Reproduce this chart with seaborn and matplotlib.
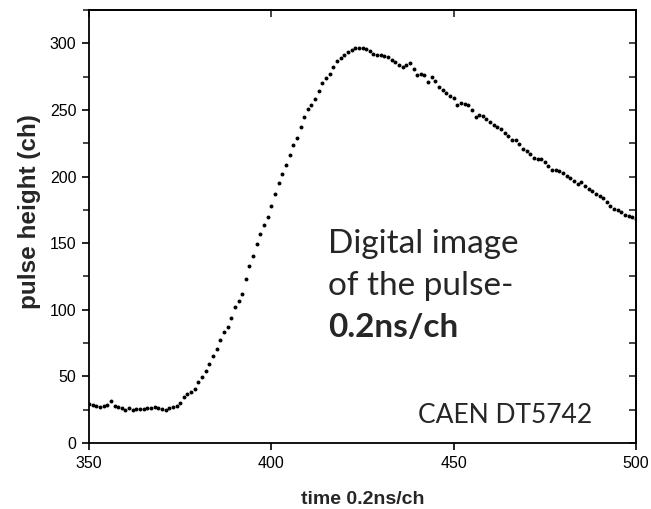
import numpy as np
import pandas as pd
import matplotlib
matplotlib.use("Agg")
import matplotlib.pyplot as plt
import seaborn as sns
from matplotlib.ticker import MultipleLocator

# ---- data ----
time_ch = list(range(350, 501))
pulse_height = [
    29.0, 28.3, 27.5, 27.3, 27.5, 28.3, 31.5, 27.5, 26.8, 26.0,
    24.7, 26.2, 24.7, 25.7, 25.2, 25.7, 26.0, 26.5, 27.2, 26.0,
    25.5, 24.7, 26.2, 27.2, 28.0, 29.7, 34.7, 36.5, 38.0, 40.5,
    46.0, 49.7, 54.2, 59.0, 65.0, 70.5, 77.0, 83.0, 87.0, 93.7,
    102.0, 106.5, 112.0, 123.0, 132.7, 140.0, 149.7, 156.7, 163.7, 169.5,
    177.7, 186.7, 195.0, 201.7, 209.0, 216.0, 224.0, 229.3, 237.3, 244.5,
    250.5, 254.0, 258.5, 264.3, 270.3, 274.0, 277.3, 282.3, 287.0, 289.0,
    291.2, 293.5, 295.3, 296.5, 296.7, 296.7, 296.0, 294.5, 292.0, 291.5,
    291.0, 290.5, 289.5, 287.7, 286.0, 283.5, 282.2, 284.0, 285.5, 280.5,
    276.5, 276.7, 276.5, 271.2, 274.5, 271.5, 267.2, 265.2, 262.5, 260.5,
    258.7, 254.0, 255.2, 254.7, 253.5, 250.2, 244.7, 246.2, 245.7, 243.2,
    240.7, 239.0, 237.2, 235.5, 233.0, 230.5, 227.2, 227.7, 224.2, 221.0,
    219.5, 216.7, 214.2, 213.2, 213.5, 211.2, 208.2, 205.2, 205.2, 204.0,
    202.7, 200.5, 198.7, 197.0, 194.7, 195.7, 193.2, 190.9, 189.2, 187.2,
    185.5, 183.7, 181.0, 178.0, 176.0, 174.7, 173.5, 171.2, 170.2, 169.7,
    168.5,
]
x_label = "time 0.2ns/ch"
y_label = "pulse height (ch)"
note_lines = ["Digital image", "of the pulse-", "0.2ns/ch"]
device = "CAEN DT5742"

df = pd.DataFrame({"t": time_ch, "h": pulse_height})

sns.set_style("ticks")
plt.rcParams["font.family"] = ["Liberation Sans", "DejaVu Sans"]

fig = plt.figure(figsize=(6.51, 5.09), dpi=100)
ax = fig.add_axes([89 / 651, 66 / 509, (636 - 89) / 651, (443 - 10) / 509])

sns.scatterplot(data=df, x="t", y="h", ax=ax, color="black", s=8,
                linewidth=0, legend=False, zorder=3)

ax.set_xlim(350, 500)
ax.set_ylim(0, 325)
ax.xaxis.set_major_locator(MultipleLocator(50))
ax.yaxis.set_major_locator(MultipleLocator(50))
ax.yaxis.set_minor_locator(MultipleLocator(25))

for s in ax.spines.values():
    s.set_linewidth(1.3)
    s.set_color("black")
    s.set_visible(True)

ax.tick_params(axis="both", which="major", direction="out", length=5,
               width=1.2, labelsize=11.5, colors="black", pad=4)
ax.tick_params(axis="y", which="minor", direction="out", length=4, width=1.2)

top = ax.secondary_xaxis("top")
top.xaxis.set_major_locator(MultipleLocator(50))
top.tick_params(direction="in", length=5, width=1.2, labeltop=False)
top.spines["top"].set_linewidth(1.3)
right = ax.secondary_yaxis("right")
right.yaxis.set_major_locator(MultipleLocator(25))
right.tick_params(direction="in", length=5, width=1.2, labelright=False)
right.spines["right"].set_linewidth(1.3)

ax.set_xlabel(x_label, fontsize=14, fontweight="bold", labelpad=15)
ax.set_ylabel(y_label, fontsize=17.5, fontweight="bold")
ax.yaxis.set_label_coords(-0.088, 0.535)

note_font = ["Lato", "DejaVu Sans"]
ax.text(0.437, 0.439, note_lines[0], transform=ax.transAxes,
        fontsize=24, family=note_font, va="baseline", ha="left")
ax.text(0.437, 0.342, note_lines[1], transform=ax.transAxes,
        fontsize=24, family=note_font, va="baseline", ha="left")
ax.text(0.437, 0.245, note_lines[2], transform=ax.transAxes,
        fontsize=24, family=note_font, fontweight="bold",
        va="baseline", ha="left")
ax.text(0.601, 0.046, device, transform=ax.transAxes,
        fontsize=19, family=note_font, va="baseline", ha="left")

fig.savefig("out.png", dpi=100)
